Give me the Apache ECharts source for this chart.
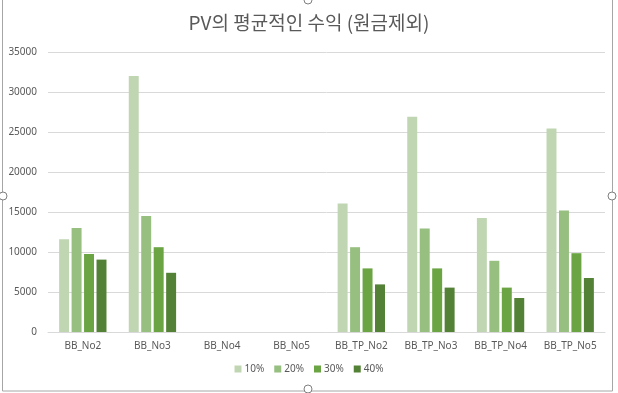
<!DOCTYPE html>
<html>
<head>
<meta charset="utf-8">
<script src="https://cdn.jsdelivr.net/npm/echarts@6/dist/echarts.min.js"></script>
<style>
  html, body { margin: 0; padding: 0; background: #fff; }
  #chart { width: 618px; height: 393px; }
</style>
</head>
<body>
<div id="chart"></div>
<script>
// 카테고리 / 시리즈 값
const categories = ['BB_No2', 'BB_No3', 'BB_No4', 'BB_No5', 'BB_TP_No2', 'BB_TP_No3', 'BB_TP_No4', 'BB_TP_No5'];
const seriesNames = ['10%', '20%', '30%', '40%'];
const v10 = [11600, 32000, null, null, 16050, 26900, 14250, 25450];
const v20 = [13000, 14500, null, null, 10600, 12950, 8900, 15200];
const v30 = [9750, 10600, null, null, 7950, 7950, 5550, 9850];
const v40 = [9050, 7400, null, null, 5950, 5550, 4250, 6750];
const colors = ['#c0d6b3', '#96bf80', '#6aa443', '#538135'];

const dom = document.getElementById('chart');
const myChart = echarts.init(dom);

const values = [v10, v20, v30, v40];
const series = seriesNames.map((name, i) => ({
    name: name,
    type: 'bar',
    data: values[i],
    barGap: '25%',
    barCategoryGap: '32%',
    itemStyle: { color: colors[i] },
    emphasis: { disabled: true }
}));

// 선택된 차트 테두리 + 핸들
const handle = (x, y) => ({
    type: 'circle', shape: { cx: x, cy: y, r: 4 },
    style: { fill: '#fff', stroke: '#7f7f7f', lineWidth: 1 }, z: 100
});

myChart.setOption({
    animation: false,
    title: {
        text: 'PV의 평균적인 수익 (원금제외)',
        left: 'center', top: 8,
        textStyle: { fontFamily: 'Noto Sans CJK KR', fontSize: 19, fontWeight: 'normal', color: '#595959' }
    },
    legend: {
        data: seriesNames,
        bottom: 14, left: 'center',
        itemWidth: 7, itemHeight: 7, itemGap: 10,
        icon: 'rect',
        textStyle: { fontFamily: 'Noto Sans', fontSize: 10, color: '#595959', padding: [0, 0, 0, -2] }
    },
    grid: { left: 48, right: 13, top: 52, bottom: 61 },
    xAxis: {
        type: 'category',
        data: categories,
        axisLine: { lineStyle: { color: '#d9d9d9' } },
        axisTick: { show: false },
        axisLabel: { fontFamily: 'Noto Sans', fontSize: 10, color: '#595959', margin: 9 }
    },
    yAxis: {
        type: 'value',
        min: 0, max: 35000, interval: 5000,
        axisLine: { show: false },
        axisTick: { show: false },
        splitLine: { lineStyle: { color: '#d9d9d9' } },
        axisLabel: { fontFamily: 'Noto Sans', fontSize: 10, color: '#595959', margin: 11, formatter: v => String(v) }
    },
    graphic: [
        { type: 'rect', shape: { x: 2.5, y: -2, width: 610, height: 393 },
          style: { fill: 'none', stroke: '#a6a6a6', lineWidth: 1 }, z: 99 },
        handle(3, 196), handle(612, 196), handle(308, 389), handle(308, 0)
    ],
    series: series
});
</script>
</body>
</html>
